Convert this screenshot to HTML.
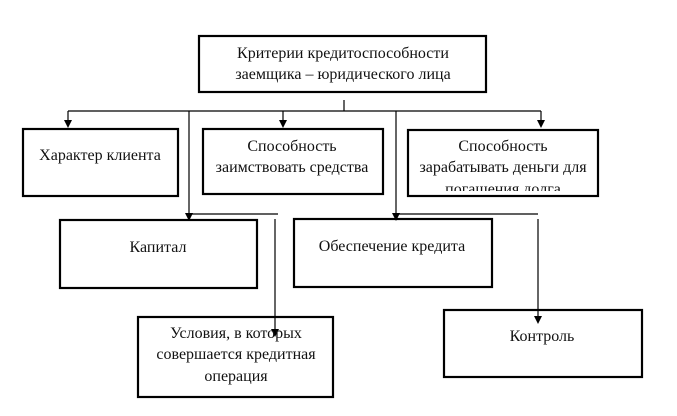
<!DOCTYPE html>
<html><head><meta charset="utf-8"><style>
html,body{margin:0;padding:0;background:#fff;width:677px;height:416px;overflow:hidden}
svg{display:block}
text{font-family:"Liberation Serif","DejaVu Serif",serif;font-size:16px;fill:#111;text-anchor:middle}
</style></head><body>
<svg width="677" height="416" viewBox="0 0 677 416" xmlns="http://www.w3.org/2000/svg">
<defs>
<clipPath id="c3"><rect x="408" y="131" width="190" height="60"/></clipPath>
</defs>
<g stroke="#000" stroke-width="1.2" fill="none">
<line x1="344" y1="100" x2="344" y2="111"/>
<line x1="68" y1="111" x2="541" y2="111"/>
<line x1="68" y1="111" x2="68" y2="120"/>
<line x1="283" y1="111" x2="283" y2="120"/>
<line x1="541" y1="111" x2="541" y2="120"/>
<line x1="189" y1="111" x2="189" y2="213"/>
<line x1="396" y1="111" x2="396" y2="213"/>
<line x1="189" y1="214" x2="278" y2="214"/>
<line x1="396" y1="214" x2="538" y2="214"/>
<line x1="275" y1="219" x2="275" y2="329"/>
<line x1="538" y1="219" x2="538" y2="316"/>
</g>
<g fill="#000">
<path d="M64,120 L72,120 L68,128 z"/>
<path d="M279,120 L287,120 L283,128 z"/>
<path d="M537,120 L545,120 L541,128 z"/>
<path d="M185,213 L193,213 L189,221 z"/>
<path d="M392,213 L400,213 L396,221 z"/>
<path d="M271,329 L279,329 L275,337 z"/>
<path d="M534,316 L542,316 L538,324 z"/>
</g>
<g stroke="#000" stroke-width="2.2" fill="none">
<rect x="199" y="36" width="287" height="56"/>
<rect x="23" y="129" width="155" height="67"/>
<rect x="203" y="129" width="180" height="65"/>
<rect x="408" y="130" width="190" height="66"/>
<rect x="60" y="220" width="197" height="68"/>
<rect x="294" y="219" width="198" height="68"/>
<rect x="138" y="317" width="195" height="80"/>
<rect x="444" y="310" width="198" height="67"/>
</g>
<text x="343" y="58">Критерии кредитоспособности</text>
<text x="343" y="79">заемщика – юридического лица</text>
<text x="100" y="160">Характер клиента</text>
<text x="292" y="151">Способность</text>
<text x="292" y="172">заимствовать средства</text>
<g clip-path="url(#c3)">
<text x="503" y="151">Способность</text>
<text x="503" y="172">зарабатывать деньги для</text>
<text x="503" y="194">погашения долга</text>
</g>
<text x="158" y="252">Капитал</text>
<text x="392" y="251">Обеспечение кредита</text>
<text x="236" y="338">Условия, в которых</text>
<text x="236" y="359">совершается кредитная</text>
<text x="236" y="381">операция</text>
<text x="542" y="341">Контроль</text>
</svg>
</body></html>
